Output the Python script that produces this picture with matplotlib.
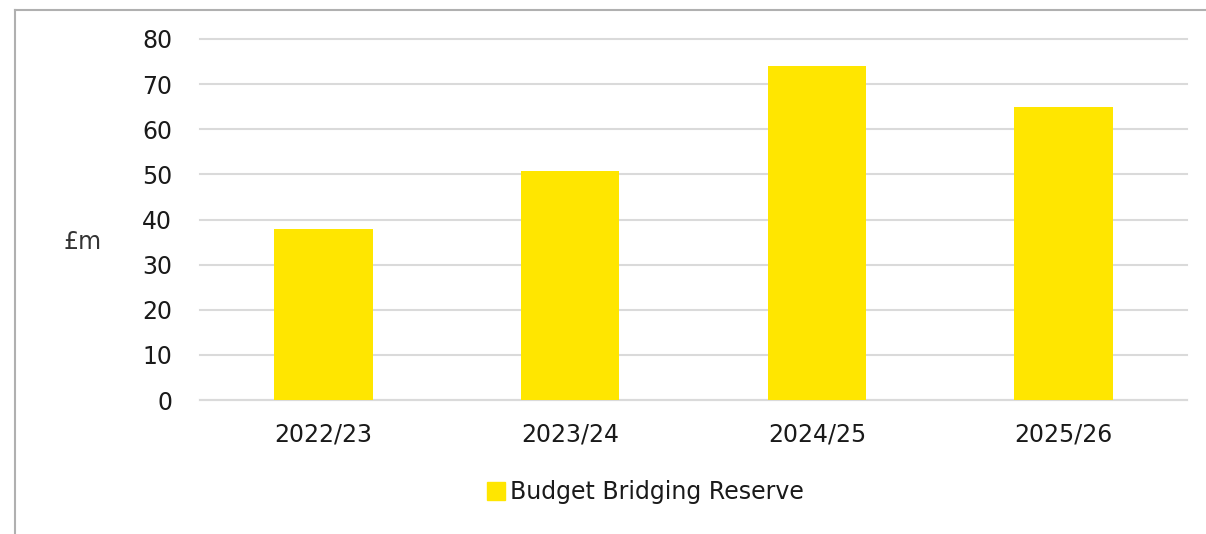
import matplotlib.pyplot as plt
from matplotlib.lines import Line2D

years = ["2022/23", "2023/24", "2024/25", "2025/26"]
reserve = [38.0, 50.8, 74.0, 65.0]
yticks = [0, 10, 20, 30, 40, 50, 60, 70, 80]

yellow = "#FFE600"
grid_c = "#dadada"
text_c = "#1a1a1a"

plt.rcParams["font.family"] = "DejaVu Sans"

fig = plt.figure(figsize=(12.06, 5.34), dpi=100)
ax = fig.add_axes([200 / 1206, 1 - 400 / 534, 987 / 1206, 361 / 534])

x = list(range(len(years)))
ax.bar(x, reserve, width=0.4, color=yellow, zorder=3, label="Budget Bridging Reserve")

ax.set_xlim(-0.5, 3.5)
ax.set_ylim(0, 80)
ax.set_yticks(yticks)
ax.set_xticks(x)
ax.set_xticklabels(years)
ax.grid(axis="y", color=grid_c, lw=1.5, zorder=0)
for gl in ax.yaxis.get_gridlines():
    gl.set_clip_on(False)
for s in ["top", "right", "left"]:
    ax.spines[s].set_visible(False)
ax.spines["bottom"].set_color(grid_c)
ax.spines["bottom"].set_linewidth(1.5)
ax.tick_params(axis="both", length=0, labelsize=17, labelcolor=text_c)
ax.tick_params(axis="y", pad=20)
ax.tick_params(axis="x", pad=16)

fig.text(83 / 1206, 1 - 242 / 534, "£m", fontsize=17, color="#333333", ha="center", va="center")

handle = Line2D([], [], marker="s", ls="none", color=yellow, markersize=13)
fig.legend([handle], ["Budget Bridging Reserve"], loc="center",
           bbox_to_anchor=(644 / 1206, 1 - 492 / 534), frameon=False,
           fontsize=17, handletextpad=0.1, handlelength=1.0, labelcolor=text_c)

# outer frame (left + top only, like the cropped source)
fig.add_artist(Line2D([14.5 / 1206, 14.5 / 1206], [0, 1 - 10 / 534], color="#b0b0b0", lw=1.5))
fig.add_artist(Line2D([14.5 / 1206, 1], [1 - 10 / 534, 1 - 10 / 534], color="#b0b0b0", lw=1.5))

plt.savefig("out.png", dpi=100)
plt.close()
